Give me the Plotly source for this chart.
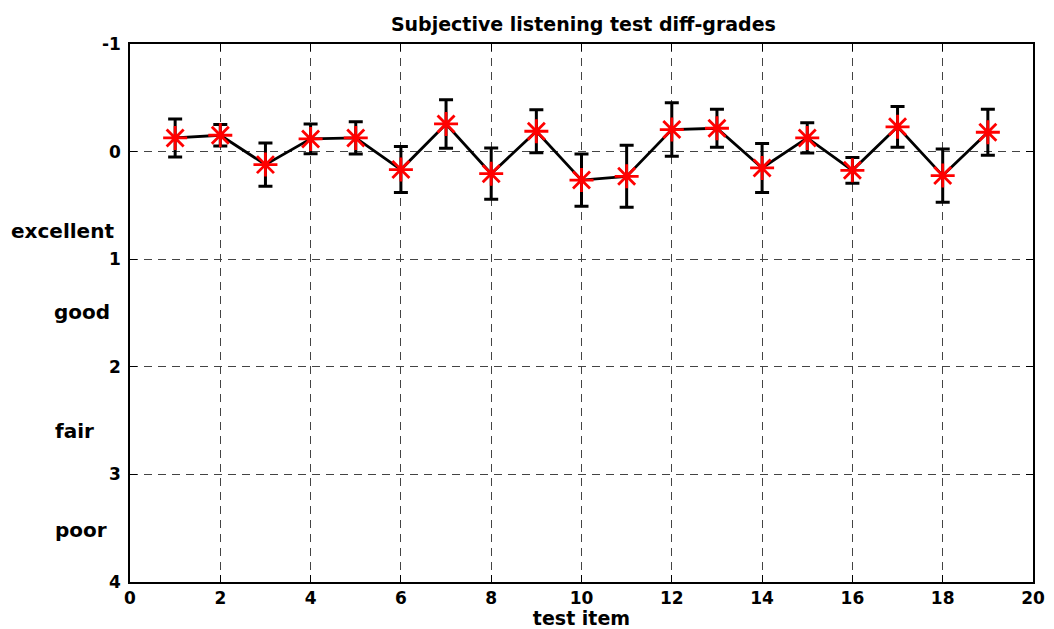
import plotly.graph_objects as go

items = list(range(1, 20))
diff_grades = [-0.127, -0.152, 0.121, -0.118, -0.127, 0.167, -0.257, 0.205, -0.189, 0.265,
               0.23, -0.205, -0.217, 0.152, -0.127, 0.174, -0.23, 0.223, -0.18]
conf_half = [0.177, 0.10, 0.20, 0.138, 0.15, 0.214, 0.226, 0.238, 0.20, 0.242,
             0.288, 0.248, 0.177, 0.228, 0.14, 0.119, 0.19, 0.248, 0.214]
x_ticks = list(range(0, 21, 2))
y_ticks = [-1, 0, 1, 2, 3, 4]
y_tick_text = ["-1", "0", "1", "2", "3", "4"]
grade_labels = ["excellent", "good", "fair", "poor"]
grade_label_y = [0.735, 1.49, 2.6, 3.52]
grade_label_px = [9, 52, 53, 53]

FONT = "DejaVu Sans"

fig = go.Figure()
fig.add_trace(go.Scatter(
    x=items, y=diff_grades, mode="lines+markers",
    line=dict(color="black", width=2.8),
    marker=dict(symbol="asterisk-open", size=20, color="red",
                line=dict(color="red", width=2.8)),
    error_y=dict(type="data", array=conf_half, visible=True,
                 color="black", thickness=3, width=7),
    showlegend=False,
))

axis_common = dict(
    showline=True, linecolor="black", linewidth=1.5, mirror="ticks",
    ticks="inside", ticklen=7, tickcolor="black", tickwidth=1,
    showgrid=True, gridcolor="#444444", gridwidth=1, griddash="8px,6px",
    zeroline=False, automargin=False,
    tickfont=dict(family=FONT, size=17, color="black", weight="bold"),
)

fig.update_xaxes(range=[0, 20], tickvals=x_ticks,
                 title=dict(text="test item", standoff=11,
                            font=dict(family=FONT, size=19, color="black", weight="bold")),
                 **axis_common)
fig.update_yaxes(range=[4, -1], tickvals=y_ticks, ticktext=y_tick_text,
                 ticklabelstandoff=4, **axis_common)

for lab, yv, px in zip(grade_labels, grade_label_y, grade_label_px):
    fig.add_annotation(text=lab, xref="paper", x=0, xanchor="left", xshift=px - 130,
                       yref="y", y=yv, yanchor="middle", showarrow=False,
                       font=dict(family=FONT, size=20, color="black", weight="bold"))

fig.update_layout(
    width=1054, height=629,
    margin=dict(l=130, r=21, t=44, b=47),
    paper_bgcolor="white", plot_bgcolor="white",
    title=dict(text="Subjective listening test diff-grades", x=0.5535, xanchor="center",
               y=1 - 24 / 629, yanchor="middle",
               font=dict(family=FONT, size=19, color="black", weight="bold")),
)

fig.write_html("out.html")
